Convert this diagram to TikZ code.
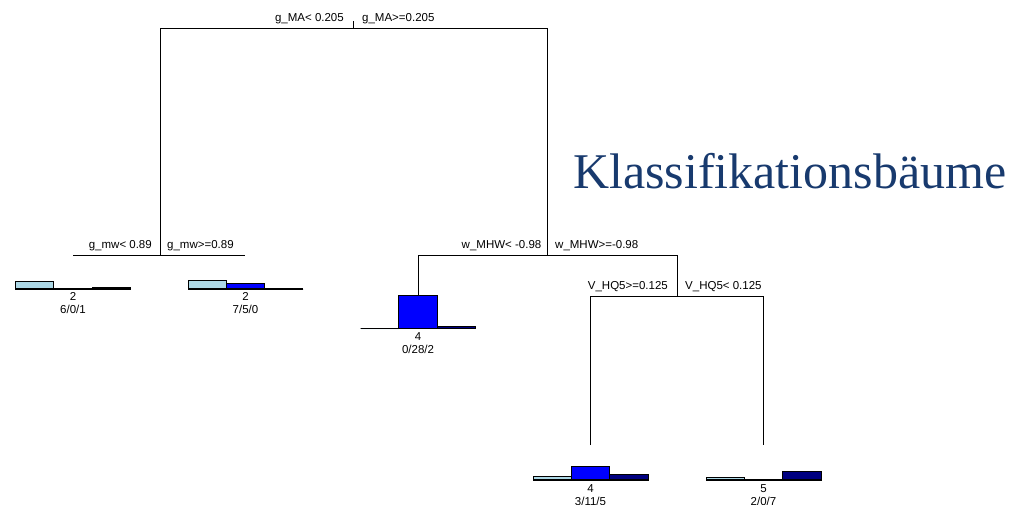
\documentclass[tikz,border=0pt]{standalone}
\usepackage{fontspec}
\setmainfont{Liberation Sans}
\newfontfamily\titlefont{Liberation Serif}

\definecolor{clsA}{HTML}{ADD8E6}
\definecolor{clsB}{HTML}{0000FF}
\definecolor{clsC}{HTML}{000080}
\definecolor{titleblue}{RGB}{24,58,110}

% bar chart under a leaf: centre x, baseline y, three class counts
\newcommand\leafbars[5]{%
  \draw[barbox,fill=clsA] ({#1-57.5},#2) rectangle ({#1-19.17},{#2-1.2*#3});
  \draw[barbox,fill=clsB] ({#1-19.17},#2) rectangle ({#1+19.17},{#2-1.2*#4});
  \draw[barbox,fill=clsC] ({#1+19.17},#2) rectangle ({#1+57.5},{#2-1.2*#5});
  \draw[barline] ({#1-57.5},#2) -- ({#1+57.5},#2);
}

\begin{document}
\begin{tikzpicture}[x=1pt,y=-1pt,
  treeline/.style={line width=0.9pt},
  barbox/.style={line width=0.8pt},
  barline/.style={line width=1.2pt},
  txt/.style={inner sep=0pt,font=\fontsize{11.5}{13}\selectfont},
  splitL/.style={txt,anchor=base east},
  splitR/.style={txt,anchor=base west},
  leaflab/.style={txt,anchor=base}]
\useasboundingbox (0,0) rectangle (1016,504);

% split points and leaf ends
\coordinate (root) at (353.5,28);
\coordinate (rootTop) at (353.5,21);
\coordinate (mwL) at (160,28);
\coordinate (mhR) at (547,28);
\coordinate (mw) at (160,255);
\coordinate (mh) at (547,255);
\coordinate (leafA) at (73,255);
\coordinate (leafB) at (245,255);
\coordinate (leafCtop) at (418,255);
\coordinate (leafC) at (418,295);
\coordinate (hqTop) at (677.5,255);
\coordinate (hq) at (677.5,296);
\coordinate (leafDtop) at (590.5,296);
\coordinate (leafD) at (590.5,445);
\coordinate (leafEtop) at (763.5,296);
\coordinate (leafE) at (763.5,445);

% tree connectors
\draw[treeline] (rootTop) -- (root);
\draw[treeline] (mw) -- (mwL) -- (mhR) -- (mh);
\draw[treeline] (leafA) -- (leafB);
\draw[treeline] (leafC) -- (leafCtop) -- (hqTop) -- (hq);
\draw[treeline] (leafD) -- (leafDtop) -- (leafEtop) -- (leafE);

% split labels
\node[splitL] (s1l) at (344,21) {g\_MA< 0.205};
\node[splitR] (s1r) at (362,21) {g\_MA>=0.205};
\node[splitL] (s2l) at (152,248) {g\_mw< 0.89};
\node[splitR] (s2r) at (167,248) {g\_mw>=0.89};
\node[splitL] (s3l) at (541.5,248) {w\_MHW< -0.98};
\node[splitR] (s3r) at (555,248) {w\_MHW>=-0.98};
\node[splitL] (s4l) at (668,289) {V\_HQ5>=0.125};
\node[splitR] (s4r) at (685,289) {V\_HQ5< 0.125};

% leaves
\leafbars{73}{289}{6}{0}{1}
\node[leaflab] (nA) at (73,300.5) {2};
\node[leaflab] (cA) at (73,313.5) {6/0/1};

\leafbars{245.5}{289}{7}{5}{0}
\node[leaflab] (nB) at (245.5,300.5) {2};
\node[leaflab] (cB) at (245.5,313.5) {7/5/0};

\leafbars{418}{328.5}{0}{28}{2}
\node[leaflab] (nC) at (418,340.5) {4};
\node[leaflab] (cC) at (418,353.5) {0/28/2};

\leafbars{590.5}{480}{3}{11}{5}
\node[leaflab] (nD) at (590.5,492) {4};
\node[leaflab] (cD) at (590.5,505) {3/11/5};

\leafbars{763.5}{480}{2}{0}{7}
\node[leaflab] (nE) at (763.5,492) {5};
\node[leaflab] (cE) at (763.5,505) {2/0/7};

% heading
\node[anchor=base west,inner sep=0pt,text=titleblue,
      font=\titlefont\fontsize{50}{60}\selectfont] (title) at (573,188) {Klassifikationsbäume};
\end{tikzpicture}
\end{document}
